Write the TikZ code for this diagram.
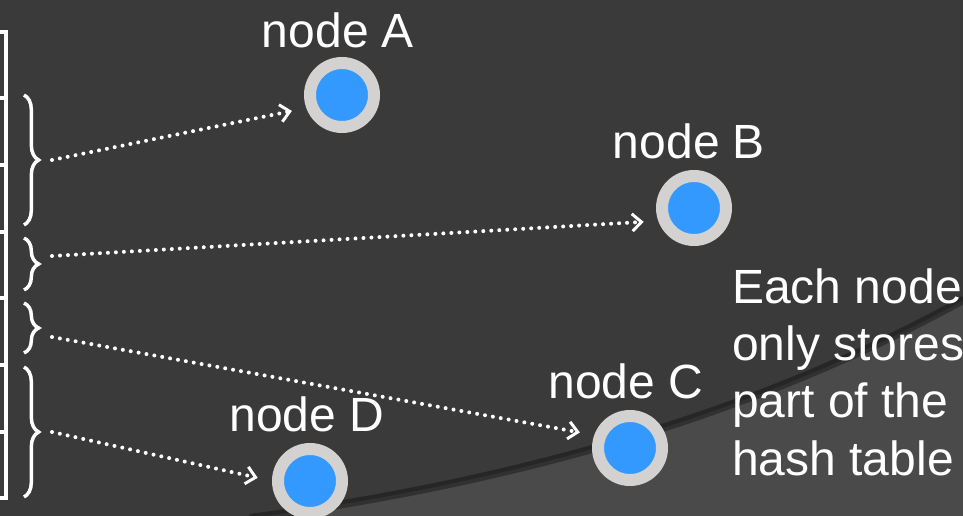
\documentclass[tikz,border=0pt]{standalone}
\usepackage{fontspec}
\setmainfont{Liberation Sans}
\usetikzlibrary{arrows.meta, decorations.pathreplacing}

\definecolor{slidebg}{HTML}{3A3A3A}
\definecolor{slidelow}{HTML}{4A4A4A}
\definecolor{slideedge}{HTML}{262626}
\definecolor{ringgray}{HTML}{D4D2D0}
\definecolor{hostblue}{HTML}{3399FF}

\begin{document}
\begin{tikzpicture}[x=0.75pt, y=-0.75pt,
    every node/.style={font=\fontsize{36}{43}\selectfont, text=white},
    host/.style={circle, fill=hostblue, draw=ringgray, line width=9pt,
      minimum size=48pt, inner sep=0pt},
    lbl/.style={anchor=base, inner sep=0pt},
    rowline/.style={white, line width=2.5pt},
    part/.style={white, line width=2.6pt, decorate,
      decoration={brace, amplitude=11pt}},
    lookup/.style={white, line width=3pt, line cap=round,
      dash pattern=on 0pt off 6pt, shorten >=11pt,
      -{Straight Barb[length=7pt, width=13pt, line width=2.2pt]}}]

    \useasboundingbox (0,0) rectangle (963,516);
    \fill[slidebg] (0,0) rectangle (963,516);

    % lower right part of the slide
    \fill[slidelow] (250,516) .. controls (520,480) and (760,410) .. (963,298)
      -- (963,516) -- cycle;
    \draw[slideedge!70!slidelow, line width=6pt]
      (250,518) .. controls (520,482) and (760,412) .. (963,300);
    \draw[slideedge, line width=3pt]
      (250,516) .. controls (520,480) and (760,410) .. (963,298);

    % the hash table
    \draw[rowline] (-20,32) rectangle (6,498);
    \foreach \y in {98,165,232,298,365,432}
    \draw[rowline] (-20,\y) -- (6,\y);

    % parts of the table
    \draw[part] (24,95) -- (24,225);
    \draw[part] (24,238) -- (24,290);
    \draw[part] (24,303) -- (24,353);
    \draw[part] (24,367) -- (24,497);

    \coordinate (p1) at (52,160);
    \coordinate (p2) at (52,256);
    \coordinate (p3) at (52,337);
    \coordinate (p4) at (52,432);

    % the nodes
    \node[host] (A) at (342,95) {};
    \node[host] (B) at (694,208) {};
    \node[host] (C) at (630,448) {};
    \node[host] (D) at (310,481) {};

    \node[lbl] (labA) at (338,48) {node A};
    \node[lbl] (labB) at (689,159) {node B};
    \node[lbl] (labC) at (626,398) {node C};
    \node[lbl] (labD) at (307,431) {node D};

    \draw[lookup] (p1) -- (A.200);
    \draw[lookup] (p2) -- (B.200);
    \draw[lookup] (p3) -- (C.160);
    \draw[lookup] (p4) -- (D.180);

    \node[anchor=north west, align=left, inner sep=0pt] (note) at (732,268)
      {Each node\\only stores\\part of the\\hash table};

\end{tikzpicture}
\end{document}
